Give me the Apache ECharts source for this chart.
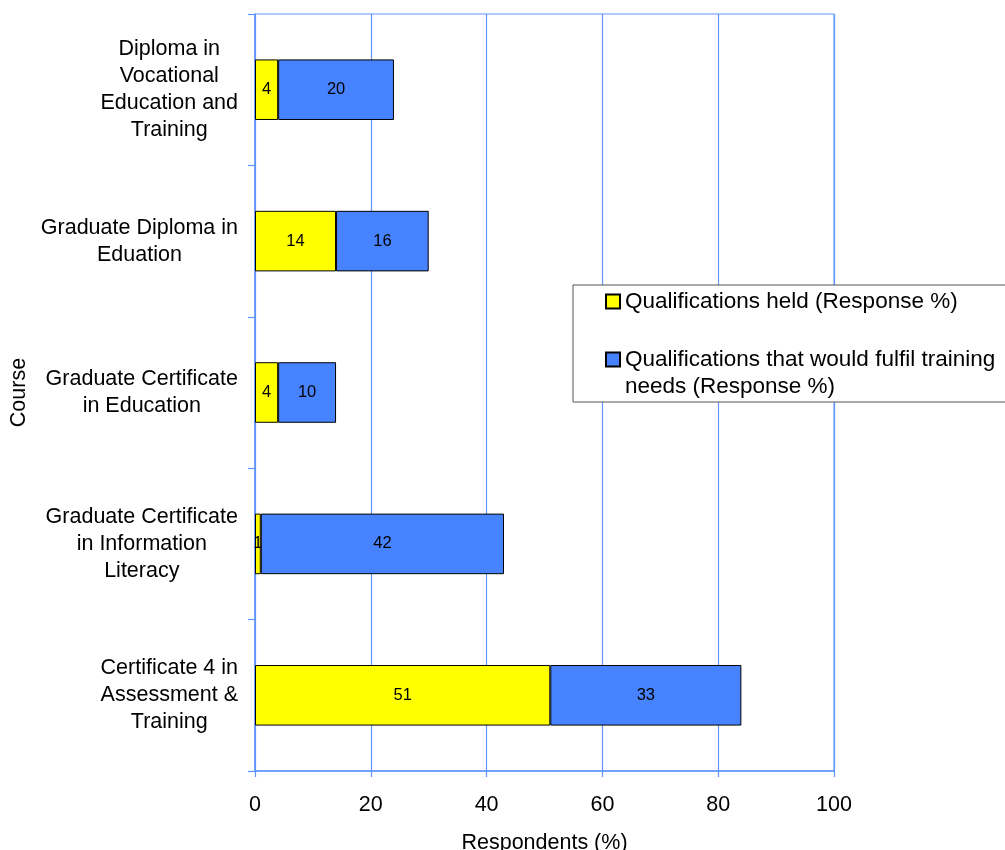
<!DOCTYPE html>
<html>
<head>
<meta charset="utf-8">
<script src="https://cdn.jsdelivr.net/npm/echarts@6/dist/echarts.min.js"></script>
<style>
html,body{margin:0;padding:0;background:#fff;}
#chart{width:1005px;height:850px;}
</style>
</head>
<body>
<div id="chart"></div>
<script>
var categories = [
  "Diploma in\nVocational\nEducation and\nTraining",
  "Graduate Diploma in\nEduation",
  "Graduate Certificate\nin Education",
  "Graduate Certificate\nin Information\nLiteracy",
  "Certificate 4 in\nAssessment &\nTraining"
];
var heldValues = [4, 14, 4, 1, 51];
var fulfilValues = [20, 16, 10, 42, 33];
var xTicks = [0, 20, 40, 60, 80, 100];
var seriesNames = ["Qualifications held (Response %)", "Qualifications that would fulfil training needs (Response %)"];
var legendLabels = ["Qualifications held (Response %)", "\nQualifications that would fulfil training\nneeds (Response %)"];

var FONT = '"Liberation Sans", Arial, sans-serif';
var LINE = '#6094ff';

var chart = echarts.init(document.getElementById('chart'), null, {renderer: 'canvas'});
chart.setOption({
  animation: false,
  backgroundColor: '#ffffff',
  textStyle: {fontFamily: FONT, color: '#000'},
  grid: {
    left: 255, right: 171, top: 14, bottom: 79,
    outerBoundsMode: 'none', containLabel: false,
    show: true, borderColor: LINE, borderWidth: 1, backgroundColor: 'transparent'
  },
  legend: {
    orient: 'vertical',
    left: 573, top: 285,
    padding: [3, 40, 2, 32],
    itemGap: 4,
    itemWidth: 14, itemHeight: 14,
    icon: 'rect',
    borderColor: '#555', borderWidth: 1, backgroundColor: '#fff',
    textStyle: {fontSize: 22.5, lineHeight: 27, color: '#000', fontFamily: FONT},
    formatter: function (name) {
      var i = seriesNames.indexOf(name);
      return i >= 0 ? legendLabels[i] : name;
    },
    data: seriesNames
  },
  xAxis: {
    type: 'value', min: 0, max: 100, interval: 20,
    name: 'Respondents (%)', nameLocation: 'middle', nameGap: 61,
    nameTextStyle: {fontSize: 21.5, color: '#000', fontFamily: FONT},
    axisLine: {show: true, lineStyle: {color: LINE, width: 1.5}},
    axisTick: {show: true, length: 6, lineStyle: {color: LINE, width: 1.2}},
    splitLine: {show: true, lineStyle: {color: LINE, width: 1.2}},
    axisLabel: {fontSize: 21.5, color: '#000', margin: 23, fontFamily: FONT,
      formatter: function (v) { return xTicks.indexOf(v) >= 0 ? String(v) : ''; }}
  },
  yAxis: {
    type: 'category', inverse: true, data: categories,
    name: 'Course', nameLocation: 'middle', nameGap: 224, nameRotate: 90,
    nameTextStyle: {fontSize: 21.5, color: '#000', fontFamily: FONT},
    axisLine: {show: true, lineStyle: {color: LINE, width: 1.5}},
    axisTick: {show: true, length: 7, lineStyle: {color: LINE, width: 1.2}},
    splitLine: {show: false},
    axisLabel: {
      margin: 17, fontSize: 21.5, lineHeight: 27, color: '#000', fontFamily: FONT,
      formatter: function (v) {
        return v.split('\n').map(function (s) { return '{c|' + s + '}'; }).join('\n');
      },
      rich: {c: {align: 'center', fontSize: 21.5, lineHeight: 27, color: '#000', fontFamily: FONT}}
    }
  },
  series: [
    {
      name: seriesNames[0], type: 'bar', stack: 'total', barWidth: '40%',
      data: heldValues,
      itemStyle: {color: '#ffff00', borderColor: '#000', borderWidth: 1},
      label: {show: true, position: 'inside', color: '#000', fontSize: 16.5, fontFamily: FONT, textBorderWidth: 0}
    },
    {
      name: seriesNames[1], type: 'bar', stack: 'total', barWidth: '40%',
      data: fulfilValues,
      itemStyle: {color: '#4783ff', borderColor: '#000', borderWidth: 1},
      label: {show: true, position: 'inside', color: '#000', fontSize: 16.5, fontFamily: FONT, textBorderWidth: 0}
    }
  ]
});
</script>
</body>
</html>
